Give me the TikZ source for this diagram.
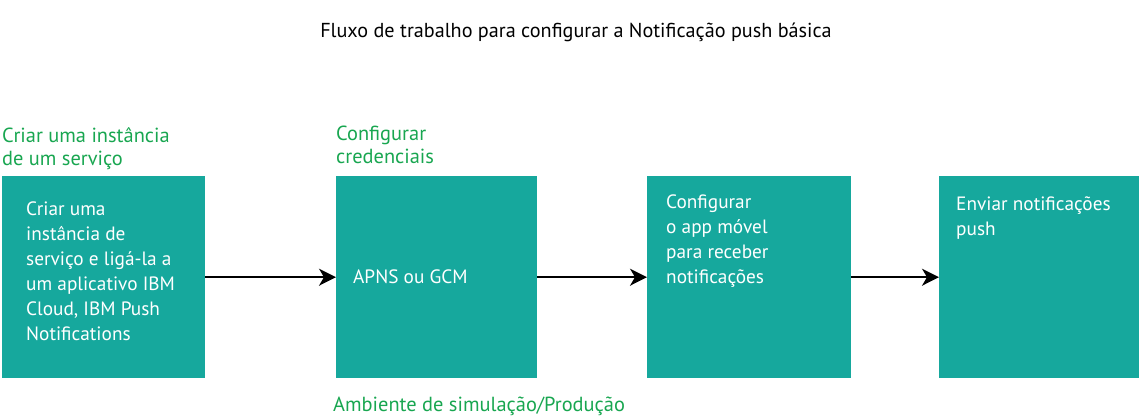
\documentclass[tikz,border=0pt]{standalone}
\usepackage{fontspec}
\setmainfont{PT Sans}
\usetikzlibrary{arrows.meta}
\definecolor{teal1}{RGB}{22,168,157}
\definecolor{green1}{RGB}{24,166,80}
\tikzset{
  box/.style={fill=teal1, draw=none, minimum width=#1, minimum height=202pt, anchor=north west, inner sep=0pt},
  boxtext/.style={anchor=base west, inner sep=0pt, text=white, font=\fontsize{19.3}{25}\selectfont},
  greenlabel/.style={anchor=base west, inner sep=0pt, text=green1, font=\fontsize{20.4}{23}\selectfont},
  flow/.style={line width=1.8pt, -{Stealth[length=17pt,width=17pt,inset=5pt]}},
}
\newcommand{\lines}[2]{\parbox[t]{#1}{\raggedright #2}}
\begin{document}
\begin{tikzpicture}[x=1pt,y=1pt]
\useasboundingbox (0,0) rectangle (1139,-417);
\node[anchor=base, inner sep=0pt, font=\fontsize{20.2}{24}\selectfont] (title) at (576,-38) {Fluxo de trabalho para configurar a Notificação push básica};

\node[box=203pt] (b1) at (2,-176) {};
\node[box=201pt] (b2) at (336,-176) {};
\node[box=204pt] (b3) at (647,-176) {};
\node[box=200pt] (b4) at (939,-176) {};

\node[greenlabel] (l1) at (2,-142) {\lines{250pt}{\baselineskip=23pt Criar uma instância\\de um serviço}};
\node[greenlabel] (l2) at (336,-140) {\lines{250pt}{\baselineskip=23pt Configurar\\credenciais}};
\node[greenlabel] (l3) at (333,-411) {Ambiente de simulação/Produção};

\node[boxtext] (t1) at (26,-215) {\lines{180pt}{\baselineskip=25pt Criar uma\\instância de\\serviço e ligá-la a\\um aplicativo IBM\\Cloud, IBM Push\\Notifications}};
\node[boxtext] (t2) at (353,-283) {APNS ou GCM};
\node[boxtext] (t3) at (666,-208) {\lines{180pt}{\baselineskip=25pt Configurar\\o app móvel\\para receber\\notificações}};
\node[boxtext] (t4) at (956,-210) {\lines{180pt}{\baselineskip=25pt Enviar notificações\\push}};

\draw[flow] (b1.east) -- (b2.west);
\draw[flow] (b2.east) -- (b3.west);
\draw[flow] (b3.east) -- (b4.west);
\end{tikzpicture}
\end{document}
